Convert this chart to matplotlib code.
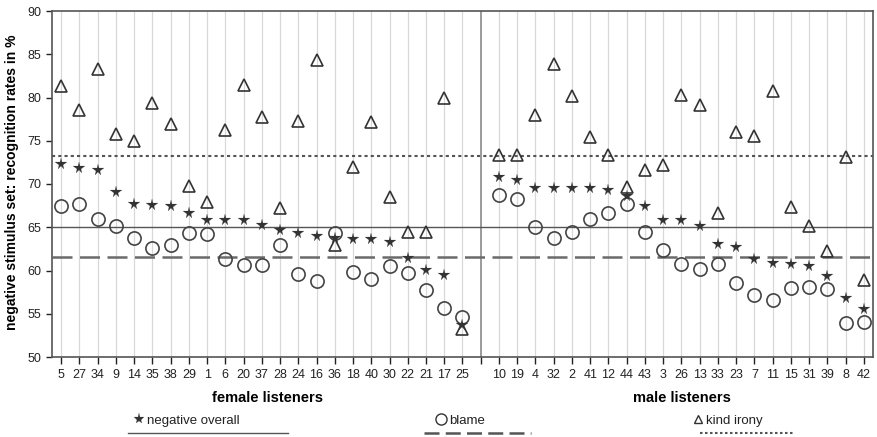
import matplotlib
matplotlib.use("Agg")
from matplotlib import pyplot as plt
from matplotlib.lines import Line2D

plt.rcParams["font.family"] = ["Liberation Sans", "DejaVu Sans"]

# listener ids, in plotted order
FEMALE_IDS = [5, 27, 34, 9, 14, 35, 38, 29, 1, 6, 20, 37, 28, 24, 16, 36, 18, 40, 30, 22, 21, 17, 25]
MALE_IDS = [10, 19, 4, 32, 2, 41, 12, 44, 43, 3, 26, 13, 33, 23, 7, 11, 15, 31, 39, 8, 42]

# recognition rates in %
FEMALE_OVERALL = [72.3, 71.8, 71.6, 69.1, 67.7, 67.6, 67.5, 66.6, 65.8, 65.8, 65.8, 65.3, 64.7, 64.3,
                  64.0, 63.8, 63.6, 63.6, 63.3, 61.5, 60.1, 59.5, 53.75]
FEMALE_BLAME = [67.4, 67.7, 66.0, 65.1, 63.7, 62.6, 63.0, 64.3, 64.2, 61.3, 60.6, 60.6, 63.0, 59.6,
                58.8, 64.3, 59.8, 59.0, 60.5, 59.7, 57.7, 55.7, 54.6]
FEMALE_IRONY = [81.3, 78.6, 83.3, 75.8, 75.0, 79.4, 76.9, 69.8, 67.9, 76.2, 81.4, 77.7, 67.2, 77.3,
                84.3, 63.0, 72.0, 77.2, 68.5, 64.4, 64.5, 79.9, 53.2]

MALE_OVERALL = [70.8, 70.5, 69.5, 69.5, 69.5, 69.5, 69.3, 68.6, 67.4, 65.8, 65.8, 65.1, 63.1, 62.7,
                61.3, 60.9, 60.8, 60.5, 59.4, 56.8, 55.6]
MALE_BLAME = [68.7, 68.3, 65.0, 63.8, 64.5, 65.9, 66.7, 67.7, 64.5, 62.4, 60.7, 60.2, 60.8, 58.5,
              57.2, 56.6, 58.0, 58.1, 57.9, 53.9, 54.0]
MALE_IRONY = [73.3, 73.4, 78.0, 83.9, 80.2, 75.4, 73.3, 69.7, 71.6, 72.2, 80.3, 79.1, 66.7, 76.0,
              75.5, 80.8, 67.35, 65.2, 62.2, 73.1, 58.9]

# mean lines
MEAN_OVERALL = 65.0
MEAN_BLAME = 61.56
MEAN_IRONY = 73.27

EDGE = "#333333"


def main():
    fig = plt.figure(figsize=(8.78, 4.37), dpi=100)
    ax = fig.add_axes([52 / 878, 1 - 357 / 437, 821 / 878, 346 / 437])

    female_x = list(range(len(FEMALE_IDS)))
    divider = len(FEMALE_IDS)
    male_x = [divider + 1 + i for i in range(len(MALE_IDS))]
    all_x = female_x + male_x

    for x in all_x:
        ax.axvline(x, color="#d8d8d8", lw=0.9, zorder=0)
    ax.axvline(divider, color="#8a8a8a", lw=1.2, zorder=1)

    ax.axhline(MEAN_OVERALL, color="#555555", lw=1.0, zorder=1)
    ax.axhline(MEAN_BLAME, color="#6a6a6a", lw=1.8, dashes=(8, 3), zorder=1)
    ax.axhline(MEAN_IRONY, color="#555555", lw=1.5, dashes=(1.5, 1.5), zorder=1)

    xs = female_x + male_x
    overall = FEMALE_OVERALL + MALE_OVERALL
    blame = FEMALE_BLAME + MALE_BLAME
    irony = FEMALE_IRONY + MALE_IRONY

    ax.plot(xs, irony, ls="none", marker="^", ms=8, mfc="none", mec=EDGE, mew=1.2, zorder=3)
    ax.plot(xs, blame, ls="none", marker="o", ms=9.5, mfc="none", mec="#444444", mew=1.2, zorder=3)
    ax.plot(xs, overall, ls="none", marker="*", ms=8.5, mfc="#333333", mec="#333333", mew=0.1, zorder=4)

    ax.set_xlim(-0.5, male_x[-1] + 0.5)
    ax.set_ylim(50, 90)
    ax.set_yticks(range(50, 91, 5))
    ax.set_xticks(all_x + [divider])
    ax.set_xticklabels([str(i) for i in FEMALE_IDS + MALE_IDS] + [""])
    ax.tick_params(axis="both", labelsize=9, colors="#222222", length=5, width=1.0)
    ax.tick_params(axis="y", length=4)
    for s in ax.spines.values():
        s.set_color("#555555")
        s.set_linewidth(1.2)

    ax.set_ylabel("negative stimulus set: recognition rates in %", fontsize=10, fontweight="bold")
    ax.yaxis.set_label_coords(-0.040, 0.505)

    # group labels
    fig.text(268 / 878, 1 - 398 / 437, "female listeners", ha="center", va="center",
             fontsize=10.5, fontweight="bold")
    fig.text(682 / 878, 1 - 398 / 437, "male listeners", ha="center", va="center",
             fontsize=10.5, fontweight="bold")

    # legend along the bottom
    y_txt = 1 - 421 / 437
    y_line = 1 - 433 / 437
    entries = [
        ("*", 139, 128, 288, dict(ls="-", lw=1.0)),
        ("o", 441, 424, 531, dict(ls=(0, (6, 2.5)), lw=1.8)),
        ("^", 698, 700, 793, dict(ls=(0, (1.2, 1.2)), lw=1.5)),
    ]
    labels = ["negative overall", "blame", "kind irony"]
    for (mk, mx, x0, x1, lstyle), lab in zip(entries, labels):
        if mk == "*":
            kw = dict(mfc="#333333", mec="#333333", ms=8, mew=0.1)
        else:
            kw = dict(mfc="none", mec=EDGE, ms=8 if mk == "o" else 6, mew=1.0)
        fig.add_artist(Line2D([mx / 878], [y_txt + 0.004], marker=mk, ls="none",
                              transform=fig.transFigure, **kw))
        fig.text((mx + 8) / 878, y_txt, lab, ha="left", va="center", fontsize=9.5, color="#222222")
        fig.add_artist(Line2D([x0 / 878, x1 / 878], [y_line, y_line], color="#555555",
                              transform=fig.transFigure, **lstyle))

    fig.savefig("out.png", dpi=100)


if __name__ == "__main__":
    main()
